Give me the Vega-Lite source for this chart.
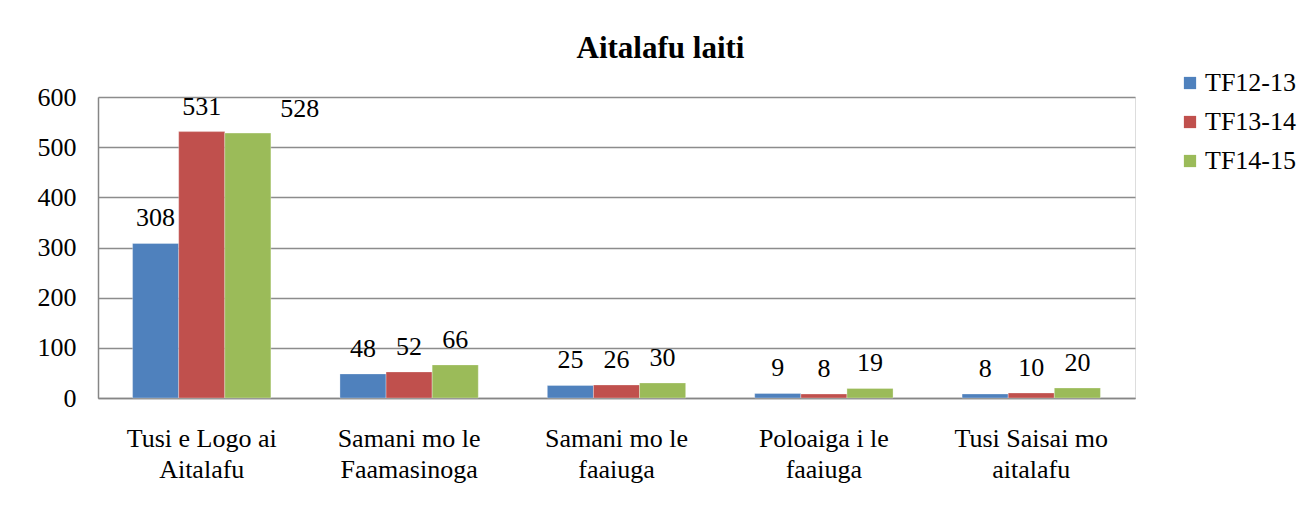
{
  "$schema": "https://vega.github.io/schema/vega-lite/v6.json",
  "autosize": {"type": "none"},
  "padding": {"left": 98, "top": 97, "right": 180, "bottom": 114},
  "width": 1037,
  "height": 301,
  "background": "white",
  "title": {
    "text": "Aitalafu laiti",
    "font": "Liberation Serif",
    "fontSize": 31,
    "fontWeight": "bold",
    "color": "black",
    "anchor": "middle",
    "dx": 44,
    "baseline": "alphabetic",
    "offset": -19
  },
  "data": {
    "values": [
      {"category": "Tusi e Logo ai Aitalafu", "year": "TF12-13", "value": 308},
      {"category": "Tusi e Logo ai Aitalafu", "year": "TF13-14", "value": 531},
      {"category": "Tusi e Logo ai Aitalafu", "year": "TF14-15", "value": 528},
      {"category": "Samani mo le Faamasinoga", "year": "TF12-13", "value": 48},
      {"category": "Samani mo le Faamasinoga", "year": "TF13-14", "value": 52},
      {"category": "Samani mo le Faamasinoga", "year": "TF14-15", "value": 66},
      {"category": "Samani mo le faaiuga", "year": "TF12-13", "value": 25},
      {"category": "Samani mo le faaiuga", "year": "TF13-14", "value": 26},
      {"category": "Samani mo le faaiuga", "year": "TF14-15", "value": 30},
      {"category": "Poloaiga i le faaiuga", "year": "TF12-13", "value": 9},
      {"category": "Poloaiga i le faaiuga", "year": "TF13-14", "value": 8},
      {"category": "Poloaiga i le faaiuga", "year": "TF14-15", "value": 19},
      {"category": "Tusi Saisai mo aitalafu", "year": "TF12-13", "value": 8},
      {"category": "Tusi Saisai mo aitalafu", "year": "TF13-14", "value": 10},
      {"category": "Tusi Saisai mo aitalafu", "year": "TF14-15", "value": 20}
    ]
  },
  "encoding": {
    "x": {
      "field": "category",
      "type": "nominal",
      "sort": null,
      "scale": {"paddingInner": 0.333, "paddingOuter": 0.1667},
      "axis": {
        "title": null,
        "labelAngle": 0,
        "labelFont": "Liberation Serif",
        "labelFontSize": 26,
        "labelColor": "black",
        "labelPadding": 27,
        "labelLineHeight": 31,
        "labelBaseline": "top",
        "ticks": false,
        "domainColor": "#868686",
        "domainWidth": 1.5,
        "labelExpr": "[slice(datum.label, 0, lastindexof(datum.label, ' ')), slice(datum.label, lastindexof(datum.label, ' ') + 1)]"
      }
    },
    "xOffset": {"field": "year", "type": "nominal", "scale": {"paddingInner": 0, "paddingOuter": 0}},
    "y": {
      "field": "value",
      "type": "quantitative",
      "scale": {"domain": [0, 600], "nice": false},
      "axis": {
        "title": null,
        "values": [0, 100, 200, 300, 400, 500, 600],
        "labelFont": "Liberation Serif",
        "labelFontSize": 26,
        "labelColor": "black",
        "labelPadding": 22,
        "ticks": false,
        "domainColor": "#868686",
        "domainWidth": 1.5,
        "gridColor": "#8c8c8c",
        "gridWidth": 1.5
      }
    }
  },
  "layer": [
    {
      "mark": {"type": "bar", "stroke": "white", "strokeWidth": 0.5, "strokeOpacity": 0.6},
      "encoding": {
        "color": {
          "field": "year",
          "type": "nominal",
          "scale": {"domain": ["TF12-13", "TF13-14", "TF14-15"], "range": ["#4F81BD", "#C0504D", "#9BBB59"]},
          "legend": {
            "title": null,
            "orient": "none",
            "legendX": 1079,
            "legendY": -27,
            "symbolType": "square",
            "symbolSize": 150,
            "symbolStrokeWidth": 0,
            "symbolOpacity": 1,
            "labelFont": "Liberation Serif",
            "labelFontSize": 26,
            "labelColor": "black",
            "labelOffset": 2,
            "rowPadding": 13
          }
        }
      }
    },
    {
      "transform": [{"filter": "datum.value != 528"}],
      "mark": {"type": "text", "font": "Liberation Serif", "fontSize": 26, "color": "black", "baseline": "alphabetic", "dy": -17},
      "encoding": {"text": {"field": "value", "type": "quantitative"}}
    },
    {
      "transform": [{"filter": "datum.value == 528"}],
      "mark": {"type": "text", "font": "Liberation Serif", "fontSize": 26, "color": "black", "baseline": "alphabetic", "dy": -16, "dx": 52},
      "encoding": {"text": {"field": "value", "type": "quantitative"}}
    }
  ]
}
